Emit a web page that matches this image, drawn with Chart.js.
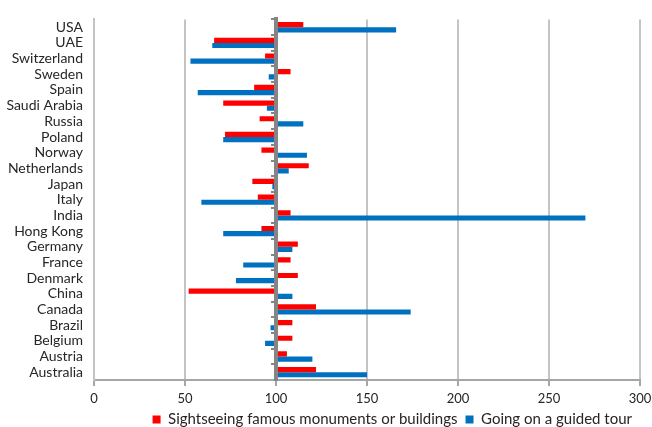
<!DOCTYPE html>
<html>
<head>
<meta charset="utf-8">
<script src="https://cdn.jsdelivr.net/npm/chart.js@4.4.1/dist/chart.umd.min.js"></script>
<style>
    html, body { margin: 0; padding: 0; background: #fff; }
    #wrap { width: 652px; height: 427px; }
</style>
</head>
<body>
<div id="wrap"><canvas id="tourChart"></canvas></div>
<script>
const countries = ['USA', 'UAE', 'Switzerland', 'Sweden', 'Spain', 'Saudi Arabia', 'Russia', 'Poland',
    'Norway', 'Netherlands', 'Japan', 'Italy', 'India', 'Hong Kong', 'Germany', 'France', 'Denmark',
    'China', 'Canada', 'Brazil', 'Belgium', 'Austria', 'Australia'];
const sightseeing = [115, 66, 94, 108, 88, 71, 91, 72, 92, 118, 87, 90, 108, 92, 112, 108, 112,
    52, 122, 109, 109, 106, 122];
const guidedTour = [166, 65, 53, 96, 57, 95, 115, 71, 117, 107, 98, 59, 270, 71, 109, 82, 78,
    109, 174, 97, 94, 120, 150];
const baseline = 100;
const xTicks = [0, 50, 100, 150, 200, 250, 300];

const fontFamily = 'Lato, "Open Sans", sans-serif';
const gridGrey = '#c4c4c4';
const axisGrey = '#858585';

// bars float from the 100 line
const toRange = arr => arr.map(v => [baseline, v]);

const ctx = document.getElementById('tourChart').getContext('2d');
new Chart(ctx, {
    type: 'bar',
    data: {
        labels: countries,
        datasets: [
            {
                label: 'Sightseeing famous monuments or buildings',
                data: toRange(sightseeing),
                backgroundColor: '#ff0000',
                categoryPercentage: 0.66,
                barPercentage: 1.0
            },
            {
                label: 'Going on a guided tour',
                data: toRange(guidedTour),
                backgroundColor: '#0070c0',
                categoryPercentage: 0.66,
                barPercentage: 1.0
            }
        ]
    },
    options: {
        indexAxis: 'y',
        responsive: true,
        maintainAspectRatio: false,
        animation: false,
        layout: { padding: { left: 0, right: 12, top: 10, bottom: -10 } },
        scales: {
            x: {
                min: 0,
                max: 300,
                afterBuildTicks: scale => { scale.ticks = xTicks.map(v => ({ value: v })); },
                grid: {
                    color: c => (c.tick && c.tick.value === baseline) ? axisGrey : gridGrey,
                    lineWidth: 2,
                    drawTicks: true,
                    tickLength: 6,
                    tickColor: '#a6a6a6'
                },
                border: { color: '#a6a6a6', width: 2 },
                ticks: {
                    padding: 5,
                    color: '#262626',
                    font: { family: fontFamily, size: 13 }
                },
                afterFit: scale => {
                    scale.height = 24;
                    scale.paddingRight = 0;
                    scale.paddingLeft = 0;
                }
            },
            y: {
                grid: { display: false, drawTicks: false },
                border: { color: gridGrey, width: 2 },
                ticks: {
                    padding: 11,
                    color: '#262626',
                    autoSkip: false,
                    font: { family: fontFamily, size: 14 }
                },
                afterFit: scale => { scale.width = 94; }
            },
            y2: {
                type: 'category',
                axis: 'y',
                labels: countries,
                position: { x: baseline },
                offset: true,
                grid: {
                    offset: true,
                    drawOnChartArea: false,
                    drawTicks: true,
                    tickLength: 3,
                    color: axisGrey,
                    lineWidth: 2
                },
                border: { color: axisGrey, width: 4, z: 1 },
                ticks: { display: false }
            }
        },
        plugins: {
            legend: {
                position: 'bottom',
                align: 'end',
                labels: {
                    boxWidth: 8,
                    boxHeight: 8,
                    padding: 8,
                    color: '#262626',
                    font: { family: fontFamily, size: 15 }
                }
            },
            tooltip: { enabled: false }
        }
    }
});
</script>
</body>
</html>
